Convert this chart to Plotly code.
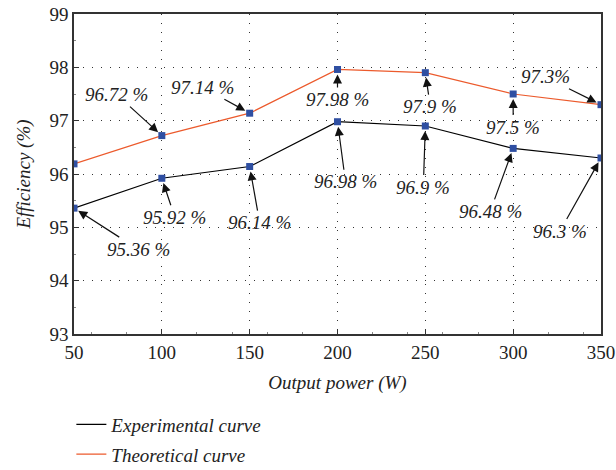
import plotly.graph_objects as go

power = [50, 100, 150, 200, 250, 300, 350]
experimental = [95.36, 95.92, 96.14, 96.98, 96.9, 96.48, 96.3]
theoretical = [96.19, 96.72, 97.14, 97.96, 97.9, 97.5, 97.3]

exp_labels = ["95.36 %", "95.92 %", "96.14 %", "96.98 %", "96.9 %", "96.48 %", "96.3 %"]
theo_labels = [None, "96.72 %", "97.14 %", "97.98 %", "97.9 %", "97.5 %", "97.3%"]

# label offsets (pixels) from point to text
exp_off = [(64, 41), (13, 39), (10, 56), (8, 60), (-2, 61), (-23, 63), (-41, 73)]
theo_off = [None, (-45, -41), (-47, -26), (0, 30), (5, 34), (0, 33), (-56, -28)]

FONT = "Liberation Serif"
FS = 19
marker = dict(symbol="square", size=7, color="#2f4fa2")

fig = go.Figure()
fig.add_trace(go.Scatter(x=power, y=experimental, mode="lines+markers", showlegend=False,
                         line=dict(color="black", width=1.2), marker=marker))
fig.add_trace(go.Scatter(x=power, y=theoretical, mode="lines+markers", showlegend=False,
                         line=dict(color="#ec5a2c", width=1.2), marker=marker))
# legend entries (line only)
fig.add_trace(go.Scatter(x=[None], y=[None], mode="lines", name="<i>Experimental curve</i>",
                         line=dict(color="black", width=1.2), legendgroup="a"))
fig.add_trace(go.Scatter(x=[None], y=[None], mode="lines", name="<i>Theoretical curve</i>",
                         line=dict(color="#ec5a2c", width=1.2), legendgroup="b"))

annotations = []
def add_ann(x, y, t, o):
    annotations.append(dict(x=x, y=y, text="<i>%s</i>" % t, ax=o[0], ay=o[1], showarrow=True,
                            arrowhead=2, arrowsize=1.5, arrowwidth=1.2, arrowcolor="#111",
                            standoff=5, font=dict(family=FONT, size=FS, color="#222")))

for x, y, t, o in zip(power, experimental, exp_labels, exp_off):
    add_ann(x, y, t, o)
for x, y, t, o in zip(power, theoretical, theo_labels, theo_off):
    if t is not None:
        add_ann(x, y, t, o)

axis_common = dict(showline=True, linecolor="#333", linewidth=1.5, mirror=True,
                   ticks="inside", ticklen=5, tickcolor="#333", automargin=False,
                   showgrid=True, gridcolor="#333", gridwidth=1, griddash="1px,8px",
                   zeroline=False, tickfont=dict(family=FONT, size=FS, color="#222"),
                   minor=dict(ticks="inside", ticklen=2, tickcolor="#888", showgrid=False))

fig.update_layout(
    width=616, height=470,
    margin=dict(l=74, r=15, t=14, b=136, autoexpand=False),
    plot_bgcolor="white", paper_bgcolor="white",
    font=dict(family=FONT, color="#222"),
    xaxis=dict(range=[50, 350], tickvals=[50, 100, 150, 200, 250, 300, 350],
               title=dict(text="<i>Output power (W)</i>", font=dict(family=FONT, size=FS), standoff=14),
               **axis_common),
    yaxis=dict(range=[93, 99], tickvals=[93, 94, 95, 96, 97, 98, 99],
               title=dict(text="<i>Efficiency (%)</i>", font=dict(family=FONT, size=FS), standoff=14),
               **axis_common),
    legend=dict(x=-0.005, y=0.137, xref="paper", yref="container", xanchor="left", yanchor="top",
                font=dict(family=FONT, size=FS), tracegroupgap=2, bgcolor="rgba(0,0,0,0)"),
    annotations=annotations,
)

fig.write_html("out.html")
